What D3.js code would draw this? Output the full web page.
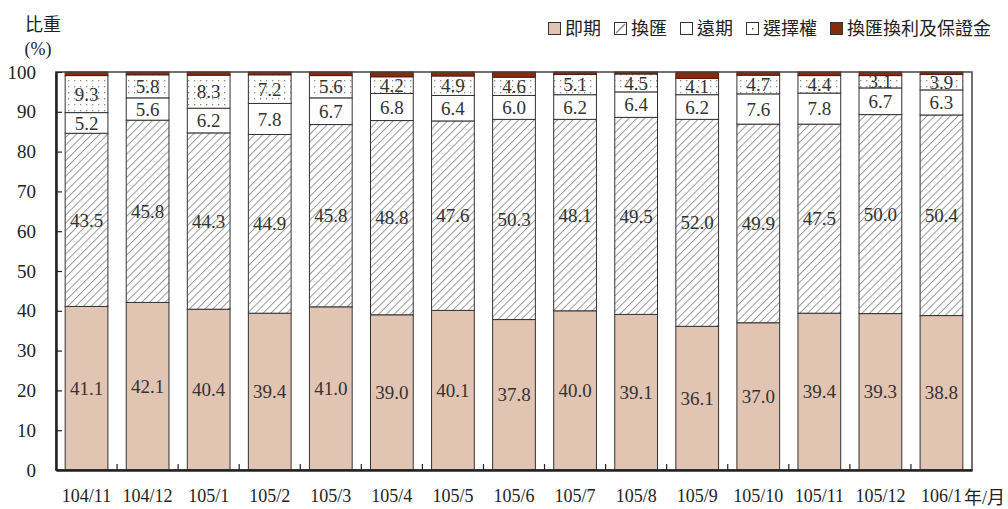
<!DOCTYPE html>
<html>
<head>
<meta charset="utf-8">
<script src="https://cdn.jsdelivr.net/npm/d3@7"></script>
<style>
  html, body { margin: 0; padding: 0; background: #fff; }
  svg { display: block; }
  .num { font-family: "Liberation Serif", "DejaVu Serif", serif; }
  .cjk { font-family: "Noto Sans CJK TC", "Noto Sans CJK SC", sans-serif; }
</style>
</head>
<body>
<svg id="chart" width="1008" height="509"></svg>
<script>
// Monthly share (%) of FX transaction types
const months = ["104/11","104/12","105/1","105/2","105/3","105/4","105/5","105/6","105/7","105/8","105/9","105/10","105/11","105/12","106/1"];
const spot     = [41.1, 42.1, 40.4, 39.4, 41.0, 39.0, 40.1, 37.8, 40.0, 39.1, 36.1, 37.0, 39.4, 39.3, 38.8];
const swap     = [43.5, 45.8, 44.3, 44.9, 45.8, 48.8, 47.6, 50.3, 48.1, 49.5, 52.0, 49.9, 47.5, 50.0, 50.4];
const forward  = [5.2, 5.6, 6.2, 7.8, 6.7, 6.8, 6.4, 6.0, 6.2, 6.4, 6.2, 7.6, 7.8, 6.7, 6.3];
const options  = [9.3, 5.8, 8.3, 7.2, 5.6, 4.2, 4.9, 4.6, 5.1, 4.5, 4.1, 4.7, 4.4, 3.1, 3.9];
const ccsMargin = [0.9, 0.7, 0.8, 0.7, 0.9, 1.2, 1.0, 1.3, 0.6, 0.5, 1.6, 0.8, 0.9, 0.9, 0.6];
const yTicks = [0, 10, 20, 30, 40, 50, 60, 70, 80, 90, 100];

const seriesNames = ["即期", "換匯", "遠期", "選擇權", "換匯換利及保證金"];
const seriesData = [spot, swap, forward, options, ccsMargin];
const showLabel = [true, true, true, true, false];

const svg = d3.select("#chart");
const defs = svg.append("defs");

// diagonal hatching for swaps
const hatch = defs.append("pattern")
  .attr("id", "hatch").attr("patternUnits", "userSpaceOnUse")
  .attr("width", 5.5).attr("height", 5.5)
  .attr("patternTransform", "rotate(45)");
hatch.append("rect").attr("width", 5.5).attr("height", 5.5).attr("fill", "#fff");
hatch.append("line").attr("x1", 0).attr("y1", 0).attr("x2", 0).attr("y2", 5.5)
  .attr("stroke", "#999").attr("stroke-width", 2);

// dotted fill for options
const dots = defs.append("pattern")
  .attr("id", "dots").attr("patternUnits", "userSpaceOnUse")
  .attr("width", 6).attr("height", 6);
dots.append("rect").attr("width", 6).attr("height", 6).attr("fill", "#fff");
dots.append("rect").attr("x", 2).attr("y", 2).attr("width", 1.3).attr("height", 1.3).attr("fill", "#8a8a8a");

const fills = ["#e2c4b3", "url(#hatch)", "#ffffff", "url(#dots)", "#8a2a0c"];

const plotLeft = 56, plotRight = 972, plotTop = 72, plotBottom = 470;

const x = d3.scaleBand().domain(months).range([plotLeft, plotRight])
  .paddingInner(0.3).paddingOuter(0.15);
const y = d3.scaleLinear().domain([0, 100]).range([plotBottom, plotTop]);

// stacked layout
const table = months.map((m, i) => {
  const row = { month: m };
  seriesNames.forEach((s, k) => row[s] = seriesData[k][i]);
  return row;
});
const stacked = d3.stack().keys(seriesNames)(table);

const barG = svg.append("g");
stacked.forEach((layer, k) => {
  const g = barG.append("g");
  g.selectAll("rect").data(layer).join("rect")
    .attr("x", d => x(d.data.month))
    .attr("width", x.bandwidth())
    .attr("y", d => y(Math.min(d[1], 100)))
    .attr("height", d => y(d[0]) - y(Math.min(d[1], 100)))
    .attr("fill", fills[k])
    .attr("stroke", k === 4 ? "#5a1a06" : "#333")
    .attr("stroke-width", 1);
});

// value labels
stacked.forEach((layer, k) => {
  if (!showLabel[k]) return;
  barG.append("g").selectAll("text").data(layer).join("text")
    .attr("class", "num")
    .attr("x", d => x(d.data.month) + x.bandwidth() / 2)
    .attr("y", d => (y(d[0]) + y(d[1])) / 2)
    .attr("dy", "0.35em")
    .attr("text-anchor", "middle")
    .attr("font-size", 19)
    .attr("fill", "#333")
    .text(d => (d[1] - d[0]).toFixed(1));
});

// plot frame
svg.append("rect").attr("x", plotLeft).attr("y", plotTop)
  .attr("width", plotRight - plotLeft).attr("height", plotBottom - plotTop)
  .attr("fill", "none").attr("stroke", "#444").attr("stroke-width", 1.5);

// y axis with inward ticks
const yAxis = svg.append("g").attr("transform", `translate(${plotLeft},0)`)
  .call(d3.axisLeft(y).tickValues(yTicks).tickSizeInner(-6).tickSizeOuter(0).tickPadding(20));
yAxis.select(".domain").attr("stroke", "#222").attr("stroke-width", 2.5);
yAxis.selectAll(".tick line").attr("stroke", "#222").attr("stroke-width", 1.2);
yAxis.selectAll(".tick text").attr("class", "num").attr("font-size", 19).attr("fill", "#222");

// x axis: labels under bars, ticks between categories
const xAxis = svg.append("g").attr("transform", `translate(0,${plotBottom})`)
  .call(d3.axisBottom(x).tickSize(0).tickPadding(19));
xAxis.select(".domain").attr("stroke", "#222").attr("stroke-width", 2.5);
xAxis.selectAll(".tick text").attr("class", "num").attr("font-size", 18).attr("fill", "#222")
  .attr("dy", "0.71em");

const boundaries = months.slice(1).map(m => x(m) - x.step() * x.paddingInner() / 2);
svg.append("g").selectAll("line").data(boundaries).join("line")
  .attr("x1", d => d).attr("x2", d => d)
  .attr("y1", plotBottom).attr("y2", plotBottom - 6)
  .attr("stroke", "#222").attr("stroke-width", 1.2);

svg.append("text").attr("x", 964).attr("y", 504)
  .attr("font-size", 18).attr("fill", "#222")
  .html('<tspan class="cjk">年</tspan><tspan class="num">/</tspan><tspan class="cjk">月</tspan>');

// y title
svg.append("text").attr("class", "cjk").attr("x", 43).attr("y", 31)
  .attr("text-anchor", "middle").attr("font-size", 18).attr("fill", "#222").text("比重");
svg.append("text").attr("class", "num").attr("x", 38).attr("y", 55)
  .attr("text-anchor", "middle").attr("font-size", 18).attr("fill", "#222").text("(%)");

// legend
const legend = svg.append("g");
let lx = 548;
seriesNames.forEach((name, k) => {
  const g = legend.append("g").attr("transform", `translate(${lx},22)`);
  g.append("rect").attr("x", 0.5).attr("y", 0.5).attr("width", 12).attr("height", 12)
    .attr("fill", k === 1 || k === 3 ? "#fff" : fills[k])
    .attr("stroke", "#333").attr("stroke-width", 1);
  if (k === 1) {
    g.append("line").attr("x1", 2).attr("y1", 11).attr("x2", 11).attr("y2", 2)
      .attr("stroke", "#888").attr("stroke-width", 1.5);
  }
  if (k === 3) {
    g.append("rect").attr("x", 6).attr("y", 6).attr("width", 1.5).attr("height", 1.5).attr("fill", "#555");
  }
  g.append("text").attr("class", "cjk").attr("x", 17).attr("y", 6.5).attr("dy", "0.36em")
    .attr("font-size", 18).attr("fill", "#222").text(name);
  lx += 17 + name.length * 18 + 13;
});
</script>
</body>
</html>
